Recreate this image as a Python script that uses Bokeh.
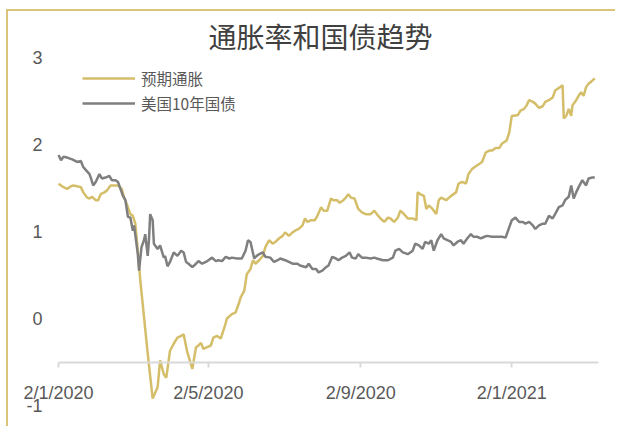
import pandas as pd
from bokeh.plotting import figure
from bokeh.models import Range1d, FixedTicker, Legend, LegendItem, Label
from bokeh.embed import file_html
from bokeh.resources import INLINE

title_text = "通胀率和国债趋势"
series_names = ["预期通胀", "美国10年国债"]

inflation_dates = [
    "2020-01-02", "2020-01-04", "2020-01-06", "2020-01-09", "2020-01-12", "2020-01-14", "2020-01-17",
    "2020-01-20", "2020-01-22", "2020-01-25", "2020-01-27", "2020-01-29", "2020-02-01", "2020-02-03",
    "2020-02-05", "2020-02-08", "2020-02-10", "2020-02-13", "2020-02-16", "2020-02-19", "2020-02-22",
    "2020-02-24", "2020-02-26", "2020-02-29", "2020-03-02", "2020-03-04", "2020-03-06", "2020-03-08",
    "2020-03-11", "2020-03-14", "2020-03-18", "2020-03-22", "2020-03-24", "2020-03-27", "2020-03-29",
    "2020-04-01", "2020-04-04", "2020-04-07", "2020-04-10", "2020-04-12", "2020-04-15", "2020-04-17",
    "2020-04-19", "2020-04-22", "2020-04-24", "2020-04-26", "2020-04-28", "2020-05-01", "2020-05-04",
    "2020-05-06", "2020-05-09", "2020-05-12", "2020-05-15", "2020-05-17", "2020-05-21", "2020-05-24",
    "2020-05-27", "2020-05-28", "2020-05-31", "2020-06-02", "2020-06-05", "2020-06-07", "2020-06-09",
    "2020-06-12", "2020-06-15", "2020-06-17", "2020-06-20", "2020-06-23", "2020-06-25", "2020-06-28",
    "2020-07-01", "2020-07-03", "2020-07-06", "2020-07-09", "2020-07-11", "2020-07-14", "2020-07-17",
    "2020-07-19", "2020-07-21", "2020-07-24", "2020-07-27", "2020-07-29", "2020-08-01", "2020-08-03",
    "2020-08-06", "2020-08-09", "2020-08-11", "2020-08-14", "2020-08-16", "2020-08-19", "2020-08-21",
    "2020-08-23", "2020-08-25", "2020-08-28", "2020-08-31", "2020-09-03", "2020-09-06", "2020-09-10",
    "2020-09-13", "2020-09-15", "2020-09-18", "2020-09-21", "2020-09-24", "2020-09-26", "2020-09-29",
    "2020-10-02", "2020-10-04", "2020-10-07", "2020-10-10", "2020-10-14", "2020-10-17", "2020-10-18",
    "2020-10-20", "2020-10-23", "2020-10-25", "2020-10-27", "2020-10-30", "2020-11-02", "2020-11-04",
    "2020-11-06", "2020-11-10", "2020-11-14", "2020-11-18", "2020-11-20", "2020-11-23", "2020-11-26",
    "2020-11-28", "2020-12-01", "2020-12-04", "2020-12-07", "2020-12-09", "2020-12-12", "2020-12-15",
    "2020-12-17", "2020-12-20", "2020-12-23", "2020-12-25", "2020-12-29", "2020-12-31", "2021-01-02",
    "2021-01-04", "2021-01-07", "2021-01-09", "2021-01-12", "2021-01-14", "2021-01-16", "2021-01-19",
    "2021-01-21", "2021-01-24", "2021-01-27", "2021-01-29", "2021-02-01", "2021-02-04", "2021-02-06",
    "2021-02-09", "2021-02-12", "2021-02-13", "2021-02-15", "2021-02-17", "2021-02-19", "2021-02-20",
    "2021-02-23", "2021-02-25", "2021-02-27", "2021-03-01", "2021-03-03", "2021-03-05", "2021-03-07",
    "2021-03-10",
]
inflation_values = [
    1.55, 1.53, 1.51, 1.49, 1.52, 1.53, 1.52,
    1.51, 1.45, 1.39, 1.38, 1.40, 1.36, 1.36,
    1.43, 1.45, 1.47, 1.53, 1.53, 1.53, 1.49,
    1.39, 1.32, 1.20, 1.18, 1.09, 0.78, 0.44,
    0.02, -0.40, -0.92, -0.79, -0.48, -0.64, -0.68,
    -0.37, -0.29, -0.22, -0.20, -0.18, -0.39, -0.48,
    -0.58, -0.33, -0.31, -0.28, -0.35, -0.33, -0.31,
    -0.22, -0.20, -0.23, -0.10, 0.00, 0.05, 0.07,
    0.19, 0.24, 0.32, 0.51, 0.57, 0.67, 0.63,
    0.67, 0.72, 0.82, 0.90, 0.86, 0.88, 0.92,
    0.95, 0.99, 0.95, 0.99, 1.01, 1.03, 1.07,
    1.15, 1.11, 1.13, 1.13, 1.18, 1.28, 1.24,
    1.24, 1.38, 1.36, 1.36, 1.33, 1.36, 1.39,
    1.43, 1.39, 1.38, 1.26, 1.22, 1.20, 1.20,
    1.24, 1.20, 1.15, 1.11, 1.16, 1.15, 1.11,
    1.16, 1.24, 1.20, 1.15, 1.15, 1.13, 1.45,
    1.43, 1.41, 1.26, 1.30, 1.26, 1.20, 1.36,
    1.39, 1.36, 1.41, 1.45, 1.55, 1.57, 1.55,
    1.66, 1.72, 1.75, 1.78, 1.80, 1.91, 1.93,
    1.93, 1.96, 1.96, 2.01, 2.05, 2.14, 2.33,
    2.33, 2.34, 2.39, 2.41, 2.45, 2.51, 2.49,
    2.47, 2.42, 2.44, 2.49, 2.51, 2.54, 2.62,
    2.65, 2.68, 2.30, 2.33, 2.41, 2.33, 2.45,
    2.51, 2.56, 2.60, 2.56, 2.66, 2.70, 2.72,
    2.76,
]

treasury_dates = [
    "2020-01-02", "2020-01-04", "2020-01-06", "2020-01-09", "2020-01-13", "2020-01-17", "2020-01-20",
    "2020-01-22", "2020-01-27", "2020-01-28", "2020-01-30", "2020-02-01", "2020-02-04", "2020-02-06",
    "2020-02-09", "2020-02-12", "2020-02-14", "2020-02-17", "2020-02-19", "2020-02-21", "2020-02-23",
    "2020-02-25", "2020-02-27", "2020-02-29", "2020-03-02", "2020-03-03", "2020-03-06", "2020-03-07",
    "2020-03-09", "2020-03-11", "2020-03-12", "2020-03-14", "2020-03-15", "2020-03-16", "2020-03-18",
    "2020-03-19", "2020-03-22", "2020-03-24", "2020-03-27", "2020-03-28", "2020-03-30", "2020-04-01",
    "2020-04-04", "2020-04-07", "2020-04-10", "2020-04-12", "2020-04-14", "2020-04-16", "2020-04-19",
    "2020-04-22", "2020-04-24", "2020-04-27", "2020-04-30", "2020-05-02", "2020-05-05", "2020-05-08",
    "2020-05-10", "2020-05-13", "2020-05-16", "2020-05-19", "2020-05-21", "2020-05-25", "2020-05-29",
    "2020-06-01", "2020-06-03", "2020-06-05", "2020-06-08", "2020-06-10", "2020-06-12", "2020-06-15",
    "2020-06-17", "2020-06-21", "2020-06-24", "2020-06-27", "2020-06-29", "2020-07-03", "2020-07-06",
    "2020-07-09", "2020-07-13", "2020-07-15", "2020-07-20", "2020-07-22", "2020-07-25", "2020-07-28",
    "2020-07-30", "2020-08-02", "2020-08-05", "2020-08-07", "2020-08-10", "2020-08-13", "2020-08-15",
    "2020-08-18", "2020-08-21", "2020-08-24", "2020-08-26", "2020-08-29", "2020-08-31", "2020-09-03",
    "2020-09-06", "2020-09-10", "2020-09-13", "2020-09-15", "2020-09-20", "2020-09-24", "2020-09-28",
    "2020-09-30", "2020-10-03", "2020-10-06", "2020-10-10", "2020-10-14", "2020-10-16", "2020-10-19",
    "2020-10-22", "2020-10-24", "2020-10-27", "2020-10-29", "2020-10-31", "2020-11-03", "2020-11-06",
    "2020-11-08", "2020-11-11", "2020-11-14", "2020-11-16", "2020-11-19", "2020-11-22", "2020-11-24",
    "2020-11-27", "2020-11-30", "2020-12-02", "2020-12-05", "2020-12-08", "2020-12-11", "2020-12-13",
    "2020-12-17", "2020-12-21", "2020-12-25", "2020-12-28", "2020-12-31", "2021-01-02", "2021-01-05",
    "2021-01-08", "2021-01-11", "2021-01-13", "2021-01-16", "2021-01-19", "2021-01-21", "2021-01-24",
    "2021-01-27", "2021-01-29", "2021-02-01", "2021-02-04", "2021-02-06", "2021-02-09", "2021-02-12",
    "2021-02-14", "2021-02-17", "2021-02-19", "2021-02-21", "2021-02-23", "2021-02-25", "2021-02-28",
    "2021-03-03", "2021-03-05", "2021-03-08", "2021-03-10",
]
treasury_values = [
    1.88, 1.82, 1.86, 1.85, 1.83, 1.80, 1.81,
    1.74, 1.66, 1.62, 1.53, 1.57, 1.66, 1.61,
    1.62, 1.64, 1.59, 1.59, 1.57, 1.49, 1.41,
    1.36, 1.17, 1.16, 1.01, 1.07, 0.74, 0.55,
    0.82, 0.90, 0.97, 0.72, 0.90, 1.20, 1.13,
    0.86, 0.80, 0.84, 0.70, 0.72, 0.60, 0.65,
    0.76, 0.72, 0.78, 0.76, 0.65, 0.63, 0.59,
    0.63, 0.66, 0.63, 0.65, 0.67, 0.70, 0.66,
    0.67, 0.66, 0.71, 0.69, 0.70, 0.69, 0.69,
    0.78, 0.90, 0.88, 0.69, 0.72, 0.74, 0.76,
    0.71, 0.70, 0.65, 0.67, 0.69, 0.67, 0.65,
    0.63, 0.63, 0.61, 0.59, 0.63, 0.57, 0.57,
    0.53, 0.55, 0.59, 0.61, 0.71, 0.69, 0.67,
    0.70, 0.72, 0.76, 0.70, 0.69, 0.74, 0.70,
    0.70, 0.69, 0.70, 0.69, 0.67, 0.67, 0.70,
    0.78, 0.80, 0.76, 0.74, 0.78, 0.86, 0.84,
    0.80, 0.88, 0.86, 0.90, 0.78, 0.90, 0.97,
    0.92, 0.90, 0.88, 0.84, 0.88, 0.90, 0.86,
    0.92, 0.97, 0.94, 0.94, 0.92, 0.94, 0.95,
    0.94, 0.94, 0.94, 0.93, 1.05, 1.13, 1.16,
    1.11, 1.11, 1.09, 1.11, 1.07, 1.03, 1.07,
    1.09, 1.09, 1.18, 1.15, 1.20, 1.28, 1.30,
    1.36, 1.40, 1.53, 1.38, 1.45, 1.51, 1.59,
    1.53, 1.61, 1.62, 1.62,
]

y_ticks = [-1, 0, 1, 2, 3]
y_tick_labels = ["-1", "0", "1", "2", "3"]
x_tick_dates = ["2020-01-02", "2020-05-02", "2020-09-02", "2021-01-02"]
x_tick_labels = ["2/1/2020", "2/5/2020", "2/9/2020", "2/1/2021"]

# visible range of the drawing area (wider than the axis so edge labels are not cut)
view_x_start, view_x_end = "2019-11-22 14:00", "2021-03-28 09:00"
view_y_start, view_y_end = -1.264, 3.529
axis_x_start, axis_x_end = "2020-01-02", "2021-03-13"
x_axis_cross = -0.5

gold = "#D5BE6A"
grey = "#7F7F7F"
text_grey = "#595959"
border_gold = "#D9C47A"


def ms(d):
    return pd.Timestamp(d).value // 10**6


p = figure(width=609, height=417, x_axis_type="datetime",
           output_backend="svg", toolbar_location=None,
           x_range=Range1d(ms(view_x_start), ms(view_x_end)),
           y_range=Range1d(view_y_start, view_y_end),
           min_border_left=0, min_border_right=0,
           min_border_top=0, min_border_bottom=0)
p.styles = {"border-top": f"2px solid {border_gold}",
            "border-left": f"2px solid {border_gold}",
            "margin-left": "6px", "margin-top": "9px"}
p.outline_line_color = None
p.xgrid.visible = False
p.ygrid.visible = False
p.background_fill_color = "white"
p.border_fill_color = "white"

r_inf = p.line(pd.to_datetime(inflation_dates), inflation_values,
               line_color=gold, line_width=2.5)
r_tr = p.line(pd.to_datetime(treasury_dates), treasury_values,
              line_color=grey, line_width=2.5)

xa = p.xaxis[0]
tick_ms = [ms(d) for d in x_tick_dates]
xa.ticker = FixedTicker(ticks=tick_ms)
xa.major_label_overrides = {t: lab for t, lab in zip(tick_ms, x_tick_labels)}
xa.fixed_location = x_axis_cross
xa.bounds = (ms(axis_x_start), ms(axis_x_end))
xa.axis_line_color = "#D9D9D9"
xa.axis_line_width = 2
xa.major_tick_line_color = "#D9D9D9"
xa.major_tick_line_width = 2
xa.major_tick_in = 0
xa.major_tick_out = 5
xa.minor_tick_line_color = None
xa.major_label_standoff = 16
xa.major_label_text_font = "Liberation Sans"
xa.major_label_text_font_size = "18px"
xa.major_label_text_color = text_grey

ya = p.yaxis[0]
ya.ticker = FixedTicker(ticks=y_ticks)
ya.major_label_overrides = {t: lab for t, lab in zip(y_ticks, y_tick_labels)}
ya.fixed_location = ms(axis_x_start)
ya.axis_line_color = None
ya.major_tick_line_color = None
ya.minor_tick_line_color = None
ya.major_tick_out = 0
ya.major_tick_in = 0
ya.major_label_standoff = 16
ya.major_label_text_font = "Liberation Sans"
ya.major_label_text_font_size = "18px"
ya.major_label_text_color = text_grey

legend = Legend(items=[LegendItem(label=series_names[0], renderers=[r_inf]),
                       LegendItem(label=series_names[1], renderers=[r_tr])],
                location=(74, 314), orientation="vertical",
                glyph_width=53, glyph_height=20, label_height=20,
                label_standoff=6, spacing=3, padding=0, margin=0,
                label_text_font="Noto Sans CJK SC",
                label_text_font_size="15.5px", label_text_color=text_grey,
                background_fill_alpha=0, border_line_alpha=0)
p.add_layout(legend, "center")

title = Label(x=312, y=393, x_units="screen", y_units="screen",
              text=title_text, text_align="center", text_baseline="middle",
              text_font="Noto Sans CJK SC", text_font_size="28px",
              text_color="#404040")
p.add_layout(title)

open("out.html", "w").write(file_html(p, INLINE))
